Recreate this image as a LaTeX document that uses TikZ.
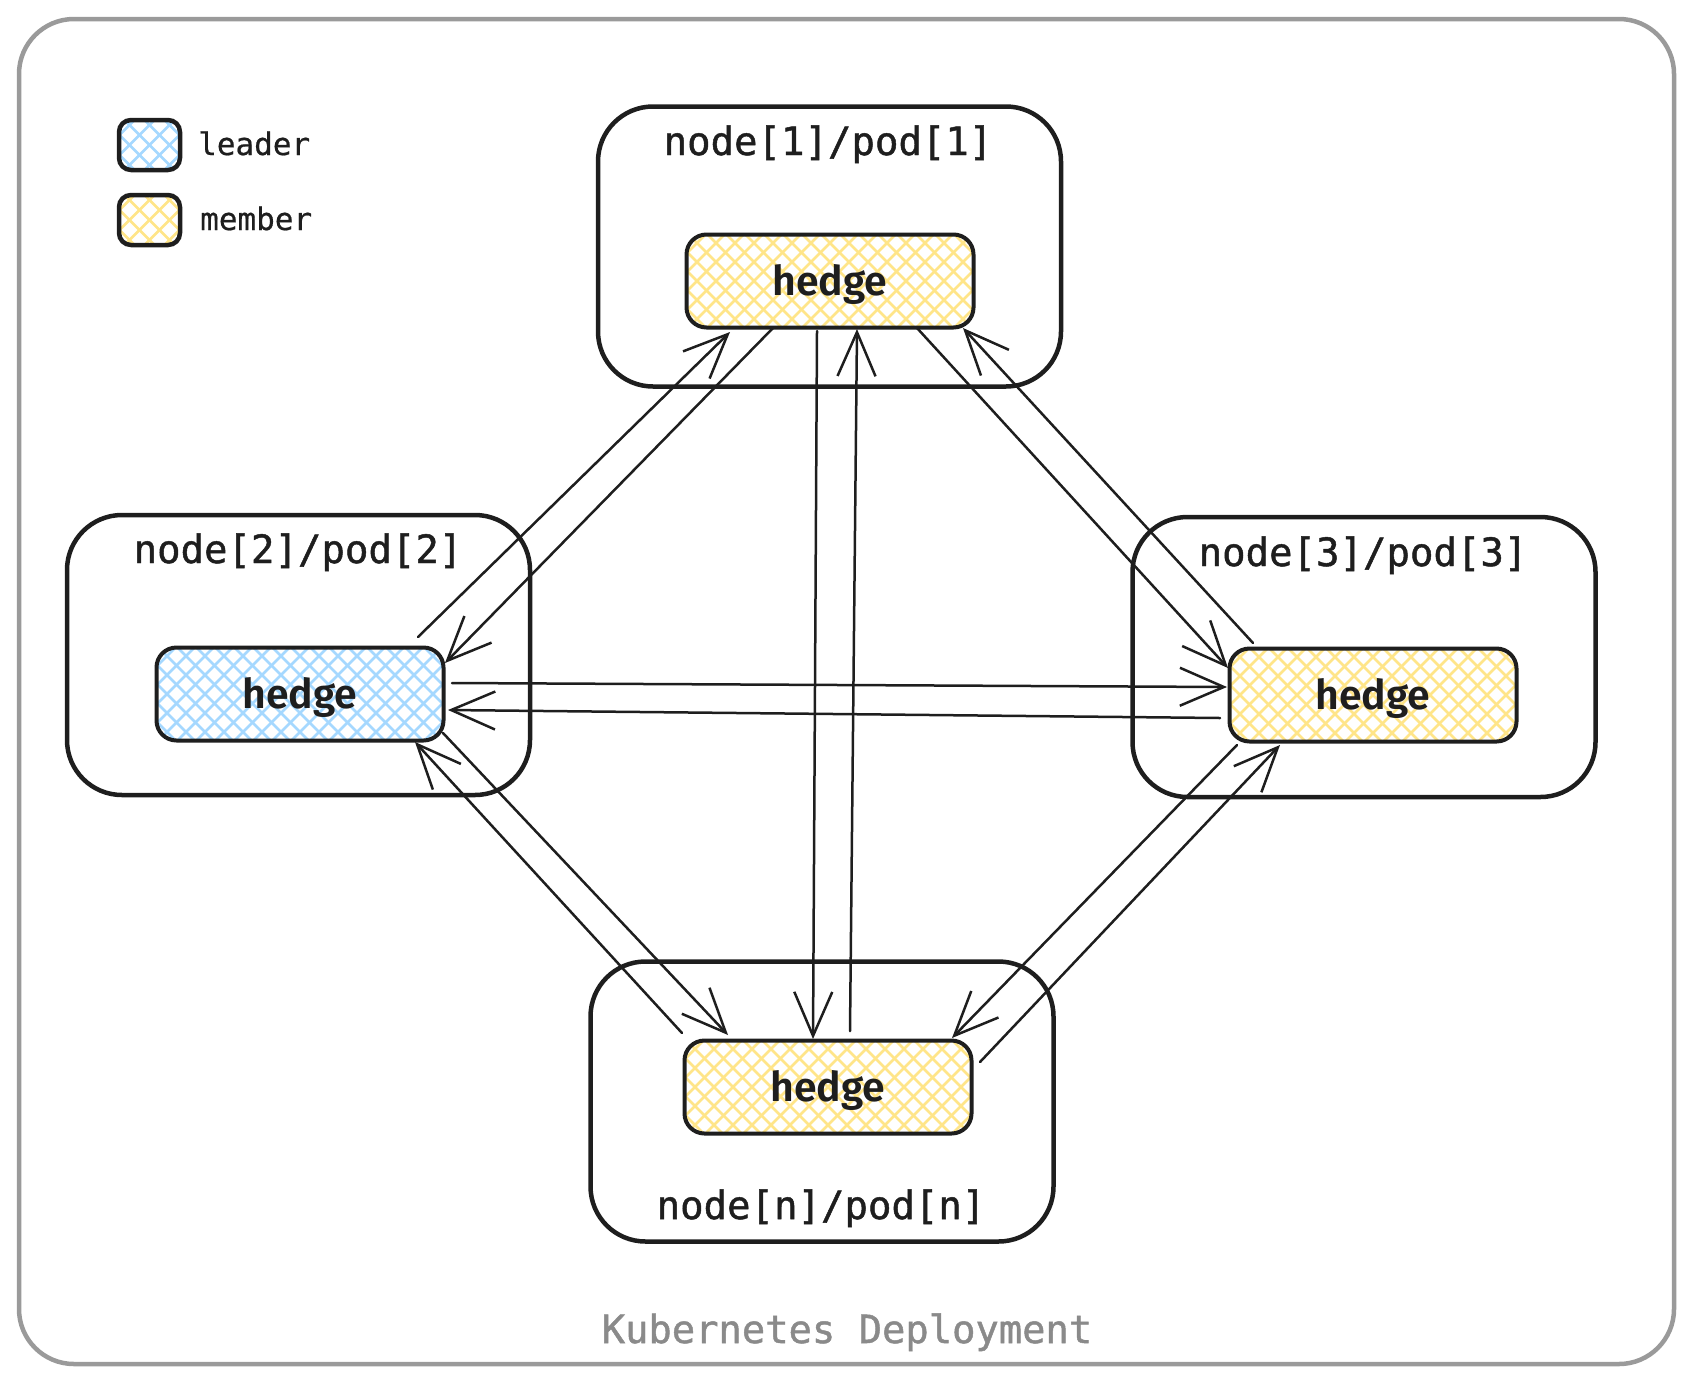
\documentclass[tikz,border=0pt]{standalone}
\usepackage{fontspec}
\newfontfamily\monof{DejaVu Sans Mono}[FakeBold=1.2]
\newfontfamily\legendf{DejaVu Sans Mono}[FakeBold=0.6]
\newfontfamily\hedgef{Fira Sans SemiBold}
\usetikzlibrary{arrows.meta}
\definecolor{ink}{HTML}{1E1E1E}
\definecolor{framegray}{HTML}{9A9A9A}
\definecolor{titlegray}{HTML}{8A8A8A}
\definecolor{hatchyellow}{HTML}{FFE589}
\definecolor{hatchblue}{HTML}{A5D8FF}
\begin{document}
\begin{tikzpicture}[x=1pt,y=-1pt,
  hatched/.style 2 args={path picture={
    \foreach \k in {-25,...,25} {
      \draw[#1, line width=2.6pt] ([xshift={\k*#2}]path picture bounding box.center) ++(-200pt,-200pt) -- ++(400pt,400pt);
      \draw[#1, line width=2.6pt] ([xshift={\k*#2}]path picture bounding box.center) ++(-200pt,200pt) -- ++(400pt,-400pt);
    }}},
  outerframe/.style={draw=framegray, line width=4.5pt, rounded corners=55pt, minimum width=1655pt, minimum height=1345pt, inner sep=0pt},
  pod/.style={draw=ink, line width=4.5pt, rounded corners=55pt, minimum width=463pt, minimum height=280pt, inner sep=0pt},
  hedgebox/.style={draw=ink, line width=4pt, rounded corners=20pt, minimum width=287pt, minimum height=93pt, inner sep=0pt,
    font=\hedgef\fontsize{41}{44}\selectfont, text=ink, text height=38pt, text depth=10pt},
  podlabel/.style={anchor=base, font=\monof\fontsize{39}{41}\selectfont, text=ink, inner sep=0pt},
  legendbox/.style={draw=ink, line width=4.5pt, rounded corners=12pt, minimum width=61pt, minimum height=50pt, inner sep=0pt},
  legendtext/.style={anchor=base west, font=\legendf\fontsize{31}{33}\selectfont, text=ink, inner sep=0pt},
  titletext/.style={anchor=base, font=\monof\fontsize{38.8}{41}\selectfont, text=titlegray, inner sep=0pt},
  msg/.style={draw=ink, line width=2.5pt, line cap=round, -{Straight Barb[length=44pt,width=38pt]}}
]
\useasboundingbox (0,0) rectangle (1693,1384);

% outer frame and title
\node[outerframe] (frame) at (846.5,691.5) {};
\node[titletext] (title) at (847,1343) {Kubernetes Deployment};

% legend
\node[legendbox, hatched={hatchblue}{20pt}] (lb) at (149.5,145) {};
\node[legendtext] (lt) at (198,155) {leader};
\node[legendbox, hatched={hatchyellow}{20pt}] (mb) at (149.5,220) {};
\node[legendtext] (mt) at (200,230) {member};

% pods
\node[pod] (p1) at (829.5,246.5) {};
\node[pod] (p2) at (298.5,655) {};
\node[pod] (p3) at (1364,657) {};
\node[pod] (pn) at (822,1101.5) {};

\node[podlabel] (l1) at (828,155) {node[1]/pod[1]};
\node[podlabel] (l2) at (298,563) {node[2]/pod[2]};
\node[podlabel] (l3) at (1363,566) {node[3]/pod[3]};
\node[podlabel] (ln) at (821,1219) {node[n]/pod[n]};

% hedges
\node[hedgebox, hatched={hatchyellow}{19pt}] (h1) at (830,281) {hedge};
\node[hedgebox, hatched={hatchblue}{19pt}] (h2) at (300,694) {hedge};
\node[hedgebox, hatched={hatchyellow}{19pt}] (h3) at (1373,695) {hedge};
\node[hedgebox, hatched={hatchyellow}{19pt}] (hn) at (828,1087) {hedge};

% connectors
\draw[msg] ([shift={(118,-57)}]h2.center) -- ([shift={(-100,51)}]h1.center);
\draw[msg] ([shift={(-57,47)}]h1.center) -- ([shift={(145,-31)}]h2.center);
\draw[msg] ([shift={(87,47)}]h1.center) -- ([shift={(-145,-27)}]h3.center);
\draw[msg] ([shift={(-120,-52)}]h3.center) -- ([shift={(133,47)}]h1.center);
\draw[msg] ([shift={(152,-11)}]h2.center) -- ([shift={(-146,-8)}]h3.center);
\draw[msg] ([shift={(-153,23)}]h3.center) -- ([shift={(148,16)}]h2.center);
\draw[msg] ([shift={(-13,50)}]h1.center) -- ([shift={(-15,-48)}]hn.center);
\draw[msg] ([shift={(22,-56)}]hn.center) -- ([shift={(27,48)}]h1.center);
\draw[msg] ([shift={(143,39)}]h2.center) -- ([shift={(-100,-52)}]hn.center);
\draw[msg] ([shift={(-146,-54)}]hn.center) -- ([shift={(115,48)}]h2.center);
\draw[msg] ([shift={(-136,50)}]h3.center) -- ([shift={(124,-49)}]hn.center);
\draw[msg] ([shift={(152,-25)}]hn.center) -- ([shift={(-93,50)}]h3.center);
\end{tikzpicture}
\end{document}
